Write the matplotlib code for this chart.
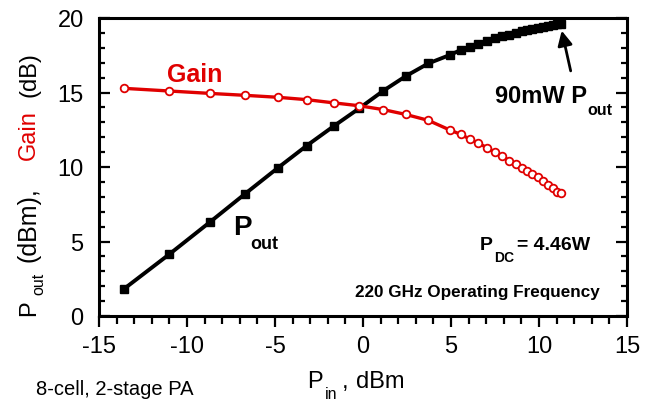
import matplotlib
matplotlib.use("Agg")
import matplotlib.pyplot as plt
from matplotlib.ticker import MultipleLocator

plt.rcParams['font.family'] = ['Liberation Sans', 'DejaVu Sans']
plt.rcParams['axes.unicode_minus'] = False

# ---- data ----
pin = [-13.6, -11.0, -8.7, -6.7, -4.85, -3.2, -1.63, -0.21, 1.16, 2.42, 3.71,
       4.94, 5.55, 6.06, 6.55, 7.03, 7.5, 7.92, 8.31, 8.69, 9.01, 9.3, 9.62,
       9.93, 10.24, 10.53, 10.78, 11.0, 11.24]
pout = [1.8, 4.15, 6.3, 8.2, 9.93, 11.43, 12.77, 13.94, 15.12, 16.09, 16.95,
        17.52, 17.85, 18.07, 18.28, 18.48, 18.64, 18.77, 18.88, 19.0, 19.1,
        19.18, 19.26, 19.33, 19.4, 19.46, 19.52, 19.57, 19.62]
gain = [15.28, 15.1, 14.94, 14.81, 14.68, 14.52, 14.3, 14.11, 13.85, 13.53,
        13.13, 12.48, 12.19, 11.88, 11.61, 11.3, 11.0, 10.72, 10.42, 10.18,
        9.91, 9.73, 9.53, 9.31, 9.04, 8.81, 8.57, 8.34, 8.23]
xticks = [-15, -10, -5, 0, 5, 10, 15]
yticks = [0, 5, 10, 15, 20]

RED = '#E00000'
W, H = 657, 402

fig = plt.figure(figsize=(W / 100, H / 100), dpi=100)
ax = fig.add_axes([99 / W, (H - 317) / H, 528 / W, 298 / H])

ax.plot(pin, pout, '-', color='black', lw=2.8, marker='s', ms=5.5,
        mfc='black', mec='black', zorder=3)
ax.plot(pin, gain, '-', color=RED, lw=2.4, marker='o', ms=5.5,
        mfc='white', mec=RED, mew=1.3, zorder=4)

ax.set_xlim(-15, 15)
ax.set_ylim(0, 20)
ax.set_xticks(xticks)
ax.set_yticks(yticks)
ax.xaxis.set_minor_locator(MultipleLocator(1))
ax.yaxis.set_minor_locator(MultipleLocator(1))
for s in ax.spines.values():
    s.set_linewidth(2.2)
ax.tick_params(axis='x', which='both', direction='out', top=False,
               labelsize=17, width=1.6, pad=6)
ax.tick_params(axis='x', which='major', length=8)
ax.tick_params(axis='x', which='minor', length=5.5)
ax.tick_params(axis='y', which='both', direction='in', left=True, right=True,
               labelsize=17, width=1.6, pad=11)
ax.tick_params(axis='y', which='major', length=8)
ax.tick_params(axis='y', which='minor', length=4)


def ptext(px, py, s, **kw):
    fig.text(px / W, 1 - py / H, s, **kw)


# in-plot annotations
ptext(167, 82, 'Gain', color=RED, fontsize=18, fontweight='bold', va='baseline')
ptext(495, 103, '90mW P', color='black', fontsize=17, fontweight='bold', va='baseline')
ptext(587, 115, 'out', color='black', fontsize=11.5, fontweight='bold', va='baseline')
ptext(233, 235, 'P', color='black', fontsize=20, fontweight='bold', va='baseline')
ptext(250, 249, 'out', color='black', fontsize=13, fontweight='bold', va='baseline')
ptext(480, 250, 'P', color='black', fontsize=14, fontweight='bold', va='baseline')
ptext(494, 262, 'DC', color='black', fontsize=10, fontweight='bold', va='baseline')
ptext(517, 250, '= 4.46W', color='black', fontsize=14, fontweight='bold', va='baseline')
ptext(600, 297, '220 GHz Operating Frequency', color='black', fontsize=12.3,
      fontweight='bold', va='baseline', ha='right')
ptext(36, 395, '8-cell, 2-stage PA', color='black', fontsize=14.5, va='baseline')

ax.annotate('', xy=(11.29, 19.15), xytext=(11.8, 16.45),
            arrowprops=dict(arrowstyle='-|>', color='black', lw=2,
                            mutation_scale=22, shrinkA=0, shrinkB=0))

# x label
ptext(307, 388, 'P', fontsize=17, va='baseline')
ptext(325, 399, 'in', fontsize=11.5, va='baseline')
ptext(342, 388, ',', fontsize=17, va='baseline')
ptext(356, 388, 'dBm', fontsize=17, va='baseline')

# y label (rotated pieces)
rk = dict(rotation=90, rotation_mode='anchor', ha='left', va='baseline')
ptext(35, 316, 'P', fontsize=17, color='black', **rk)
ptext(43, 295, 'out', fontsize=11.5, color='black', **rk)
ptext(36, 262, '(dBm),', fontsize=18, color='black', **rk)
ptext(35, 160, 'Gain', fontsize=17, color=RED, **rk)
ptext(35, 97, '(dB)', fontsize=17, color='black', **rk)

fig.savefig('out.png', dpi=100)
